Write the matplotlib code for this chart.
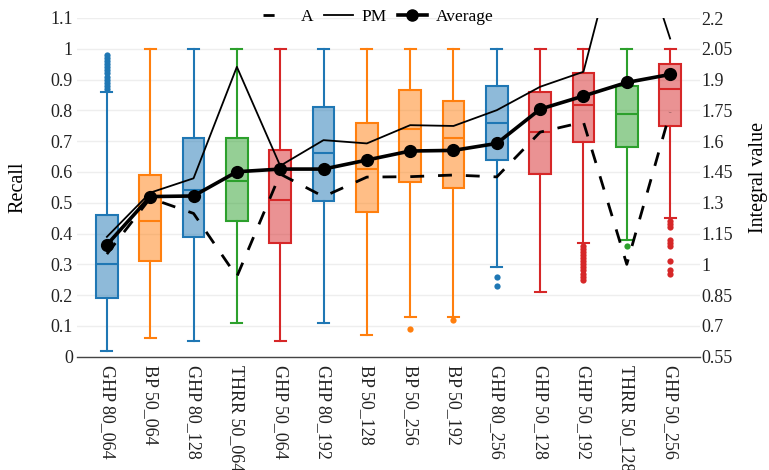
import numpy as np
import matplotlib
matplotlib.use('Agg')
import matplotlib.pyplot as plt
from matplotlib.lines import Line2D

plt.rcParams['font.family'] = ['Liberation Serif', 'DejaVu Serif']

# Categories (left -> right) and their box colour group
categories = ['GHP 80_064', 'BP 50_064', 'GHP 80_128', 'THRR 50_064',
              'GHP 50_064', 'GHP 80_192', 'BP 50_128', 'BP 50_256',
              'BP 50_192', 'GHP 80_256', 'GHP 50_128', 'GHP 50_192',
              'THRR 50_128', 'GHP 50_256']
groups = ['GHP 80', 'BP', 'GHP 80', 'THRR', 'GHP 50', 'GHP 80', 'BP', 'BP',
          'BP', 'GHP 80', 'GHP 50', 'GHP 50', 'THRR', 'GHP 50']
group_colors = {'GHP 80': '#1f77b4', 'BP': '#ff7f0e',
                'THRR': '#2ca02c', 'GHP 50': '#d62728'}

# Recall box statistics (left axis)
whislo = [0.02, 0.06, 0.05, 0.11, 0.05, 0.11, 0.07, 0.13, 0.13, 0.29,
          0.21, 0.37, 0.38, 0.45]
q1 = [0.19, 0.31, 0.39, 0.44, 0.37, 0.505, 0.47, 0.568, 0.549, 0.639,
      0.592, 0.698, 0.681, 0.749]
med = [0.30, 0.44, 0.54, 0.57, 0.51, 0.66, 0.61, 0.739, 0.711, 0.760,
       0.729, 0.819, 0.788, 0.869]
q3 = [0.46, 0.59, 0.71, 0.71, 0.67, 0.81, 0.76, 0.866, 0.831, 0.879,
      0.860, 0.922, 0.879, 0.949]
whishi = [0.86, 1, 1, 1, 1, 1, 1, 1, 1, 1, 1, 1, 1, 1]
fliers = [
    [0.87, 0.88, 0.89, 0.90, 0.91, 0.92, 0.93, 0.94, 0.95, 0.96, 0.97, 0.98],
    [], [], [], [], [], [],
    [0.09],
    [0.12],
    [0.26, 0.23],
    [],
    [0.36, 0.35, 0.34, 0.33, 0.32, 0.31, 0.30, 0.29, 0.28, 0.27, 0.26, 0.25],
    [0.36],
    [0.44, 0.43, 0.42, 0.38, 0.37, 0.36, 0.31, 0.28, 0.27],
]

# Integral values (right axis)
a_vals = [1.05, 1.322, 1.248, 0.94, 1.44, 1.33, 1.425, 1.427, 1.435, 1.426,
          1.644, 1.693, 1.0, 1.741]
pm_vals = [1.134, 1.349, 1.419, 1.962, 1.48, 1.605, 1.589, 1.678, 1.674,
           1.751, 1.865, 1.938, 2.75, 2.10]
avg_vals = [1.095, 1.33, 1.333, 1.451, 1.464, 1.464, 1.508, 1.552, 1.555,
            1.589, 1.756, 1.82, 1.886, 1.925]

left_ticks = [0, 0.1, 0.2, 0.3, 0.4, 0.5, 0.6, 0.7, 0.8, 0.9, 1, 1.1]
left_labels = ['0', '0.1', '0.2', '0.3', '0.4', '0.5', '0.6', '0.7', '0.8',
               '0.9', '1', '1.1']
right_ticks = [0.55, 0.7, 0.85, 1, 1.15, 1.3, 1.45, 1.6, 1.75, 1.9, 2.05, 2.2]
right_labels = ['0.55', '0.7', '0.85', '1', '1.15', '1.3', '1.45', '1.6',
                '1.75', '1.9', '2.05', '2.2']

fig = plt.figure(figsize=(7.69, 4.70), dpi=100)
ax = fig.add_axes([77 / 769, 1 - 356.7 / 470, 623 / 769, 338.7 / 470])

x = np.arange(len(categories))
stats = []
for i in range(len(categories)):
    stats.append({'whislo': whislo[i], 'q1': q1[i], 'med': med[i],
                  'q3': q3[i], 'whishi': whishi[i], 'fliers': fliers[i]})

bp = ax.bxp(stats, positions=x, widths=0.5, patch_artist=True,
            showfliers=True, manage_ticks=False)
for i, g in enumerate(groups):
    c = group_colors[g]
    bp['boxes'][i].set_facecolor(matplotlib.colors.to_rgba(c, 0.5))
    bp['boxes'][i].set_edgecolor(c)
    bp['boxes'][i].set_linewidth(1.5)
    bp['medians'][i].set_color(c)
    bp['medians'][i].set_linewidth(1.5)
    for k in (2 * i, 2 * i + 1):
        bp['whiskers'][k].set_color(c)
        bp['whiskers'][k].set_linewidth(1.5)
        bp['caps'][k].set_color(c)
        bp['caps'][k].set_linewidth(1.5)
    fl = bp['fliers'][i]
    fl.set_marker('o')
    fl.set_markerfacecolor(c)
    fl.set_markeredgewidth(0)
    fl.set_markersize(4.5)

ax.set_xlim(-0.69, 13.69)
ax.set_ylim(0, 1.1)
ax.set_yticks(left_ticks, left_labels)
ax.set_xticks(x, categories, rotation=-90, va='top', ha='center')
ax.grid(axis='y', color='#eeeeee', linewidth=1.0)
ax.set_axisbelow(True)
ax.tick_params(axis='both', length=0, labelsize=13, colors='#222222')
ax.tick_params(axis='y', pad=3)
ax.tick_params(axis='x', pad=6)
for s in ('top', 'left', 'right'):
    ax.spines[s].set_visible(False)
ax.spines['bottom'].set_color('#444444')
ax.spines['bottom'].set_linewidth(1.0)

ax2 = ax.twinx()
ax2.set_ylim(0.55, 2.2)
ax2.set_yticks(right_ticks, right_labels)
ax2.tick_params(axis='y', length=0, labelsize=13, colors='#222222', pad=1)
for s in ('top', 'left', 'right', 'bottom'):
    ax2.spines[s].set_visible(False)

ax2.plot(x, a_vals, color='black', linewidth=2.0, dashes=(5, 5))
ax2.plot(x, pm_vals, color='black', linewidth=1.3)
ax2.plot(x, avg_vals, color='black', linewidth=2.6, marker='o',
         markersize=8.5)

fig.text(18 / 769, 1 - 187 / 470, 'Recall', rotation=90, ha='center',
         va='center', fontsize=14.5)
fig.text(759 / 769, 1 - 177 / 470, 'Integral value', rotation=90,
         ha='center', va='center', fontsize=14.5)

handles = [
    Line2D([0], [0], color='black', lw=2.0, dashes=(4, 12)),
    Line2D([0], [0], color='black', lw=1.3),
    Line2D([0], [0], color='black', lw=2.6, marker='o', markersize=8),
]
fig.legend(handles, ['A', 'PM', 'Average'], loc='center', ncol=3,
           frameon=False, fontsize=12.5, handlelength=1.7, columnspacing=0.6,
           handletextpad=0.5, bbox_to_anchor=(378 / 769, 1 - 17 / 470))

fig.savefig('out.png', dpi=100)
